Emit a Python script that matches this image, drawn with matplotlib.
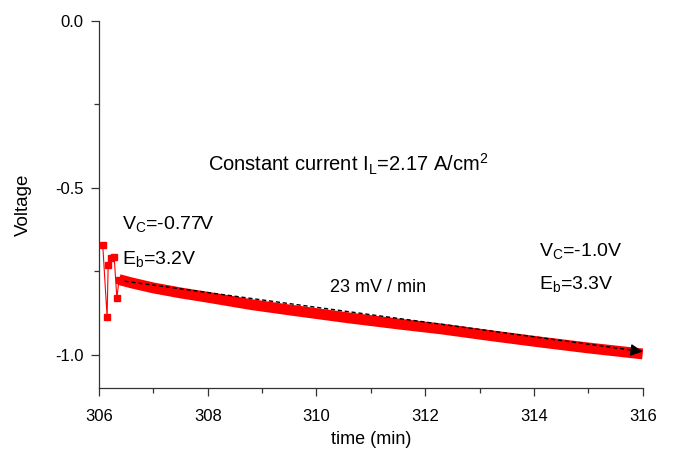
import numpy as np
import matplotlib
matplotlib.use("Agg")
import matplotlib.pyplot as plt
from matplotlib.ticker import MultipleLocator

plt.rcParams['font.family'] = ['Liberation Sans', 'DejaVu Sans']
plt.rcParams['mathtext.fontset'] = 'custom'
plt.rcParams['mathtext.rm'] = 'Liberation Sans'
plt.rcParams['axes.unicode_minus'] = False

# switching transient right after the current step
t_start = [306.07, 306.15, 306.17, 306.22, 306.28, 306.33, 306.37]
v_start = [-0.671, -0.887, -0.731, -0.710, -0.707, -0.830, -0.775]

# slow drift under constant current
t_drift = [306.37, 306.6, 307.0, 307.5, 308.0, 308.8, 309.5, 310.6,
           311.5, 312.3, 313.2, 314.1, 315.0, 316.0]
v_drift = [-0.775, -0.785, -0.800, -0.815, -0.828, -0.850, -0.866, -0.890,
           -0.908, -0.923, -0.943, -0.962, -0.980, -0.998]

# linear trend, 23 mV / min
trend_t = [306.47, 316.05]
trend_v = [-0.780, -0.992]

fig = plt.figure(figsize=(6.73, 4.54), dpi=100)
ax = fig.add_axes([0.147, 0.1454, 0.808, 0.8083])

ax.plot(t_start, v_start, color='red', lw=0.8, marker='s', ms=4.5, zorder=3)
ax.plot(t_drift, v_drift, color='red', lw=7.8, solid_capstyle='butt', zorder=3)

slope = (trend_v[1] - trend_v[0]) / (trend_t[1] - trend_t[0])
ax.plot([trend_t[0], trend_t[1] - 0.2], [trend_v[0], trend_v[1] - 0.2 * slope],
        color='black', ls=(0, (3, 2)), lw=1.0, zorder=4)
ax.annotate('', xy=(trend_t[1], trend_v[1]),
            xytext=(trend_t[1] - 0.25, trend_v[1] - 0.25 * slope),
            arrowprops=dict(arrowstyle='-|>', color='black', lw=1.0, mutation_scale=18),
            zorder=5, annotation_clip=False)

ax.text(308.0, -0.431, r'Constant current I$_\mathregular{L}$=2.17 A/cm$^\mathregular{2}$',
        fontsize=14.5, va='center')
ax.text(306.42, -0.611, r'V$_\mathregular{C}$=-0.77V', fontsize=14, va='center')
ax.text(306.42, -0.716, r'E$_\mathregular{b}$=3.2V', fontsize=14, va='center')
ax.text(310.25, -0.80, '23 mV / min', fontsize=13, va='center')
ax.text(314.1, -0.692, r'V$_\mathregular{C}$=-1.0V', fontsize=14, va='center')
ax.text(314.1, -0.791, r'E$_\mathregular{b}$=3.3V', fontsize=14, va='center')

ax.set_xlim(306, 316)
ax.set_ylim(-1.1, 0.0)
ax.set_xticks([306, 308, 310, 312, 314, 316])
ax.set_yticks([-1.0, -0.5, 0.0])
ax.set_yticklabels(['-1.0', '-0.5', '0.0'])
ax.xaxis.set_minor_locator(MultipleLocator(1))
ax.yaxis.set_minor_locator(MultipleLocator(0.25))

for side in ['top', 'right']:
    ax.spines[side].set_visible(False)
for side in ['left', 'bottom']:
    ax.spines[side].set_linewidth(0.9)
    ax.spines[side].set_color('#333333')

ax.tick_params(which='major', direction='out', length=6, width=0.9,
               labelsize=12, color='#333333', pad=5)
ax.tick_params(axis='x', which='major', pad=9)
ax.tick_params(which='minor', direction='out', length=3.5, width=0.9, color='#333333')

ax.set_xlabel('time (min)', fontsize=13, labelpad=5)
ax.set_ylabel('Voltage', fontsize=13.5, labelpad=17)

fig.savefig('out.png', dpi=100)
